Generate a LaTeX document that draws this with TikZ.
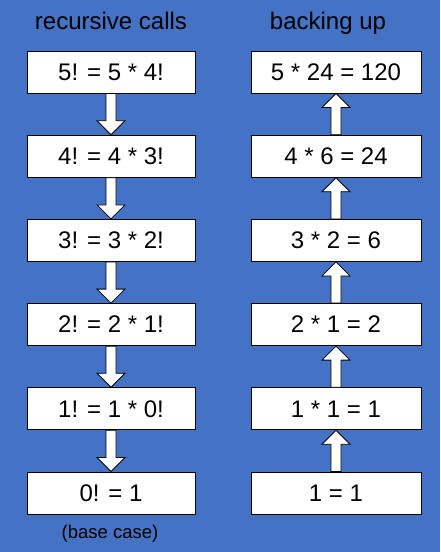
\documentclass[tikz,border=0pt]{standalone}
\usepackage{fontspec}
\setmainfont{Liberation Sans}
\usetikzlibrary{calc}
\definecolor{bg}{HTML}{4472C4}
\begin{document}
\begin{tikzpicture}[x=1pt,y=-1pt,
  box/.style={draw=black,line width=1pt,fill=white,inner sep=0pt,minimum height=42pt,font=\fontsize{24}{28}\selectfont},
  lbox/.style={box,minimum width=168pt},
  rbox/.style={box,minimum width=170pt},
  title/.style={anchor=base,font=\fontsize{24}{28}\selectfont,text=black},
  arr/.style={draw=black,line width=0.8pt,fill=white,line join=miter}]
\fill[bg] (0,0) rectangle (440,552);
\useasboundingbox (0,0) rectangle (440,552);
\node[title] (tl) at (111,29) {recursive calls};
\node[title] (tr) at (328,29) {backing up};
\node[lbox] (l1) at (111,72) {5! = 5 * 4!};
\node[lbox] (l2) at (111,156.2) {4! = 4 * 3!};
\node[lbox] (l3) at (111,240.4) {3! = 3 * 2!};
\node[lbox] (l4) at (111,324.6) {2! = 2 * 1!};
\node[lbox] (l5) at (111,408.8) {1! = 1 * 0!};
\node[lbox] (l6) at (111,493) {0! = 1};
\node[rbox] (r1) at (336,72) {5 * 24 = 120};
\node[rbox] (r2) at (336,156.2) {4 * 6 = 24};
\node[rbox] (r3) at (336,240.4) {3 * 2 = 6};
\node[rbox] (r4) at (336,324.6) {2 * 1 = 2};
\node[rbox] (r5) at (336,408.8) {1 * 1 = 1};
\node[rbox] (r6) at (336,493) {1 = 1};
\node[anchor=base,font=\fontsize{18.5}{22}\selectfont] (bc) at (110,538) {(base case)};
\foreach \a/\b in {l1/l2,l2/l3,l3/l4,l4/l5,l5/l6}{
  \draw[arr] ($(\a.south)+(-5,0)$) -- ($(\b.north)+(-5,-14)$) -- ($(\b.north)+(-14,-14)$)
    -- (\b.north) -- ($(\b.north)+(14,-14)$) -- ($(\b.north)+(5,-14)$) -- ($(\a.south)+(5,0)$) -- cycle;
}
\foreach \a/\b in {r1/r2,r2/r3,r3/r4,r4/r5,r5/r6}{
  \draw[arr] ($(\b.north)+(-5,0)$) -- ($(\a.south)+(-5,14)$) -- ($(\a.south)+(-14,14)$)
    -- (\a.south) -- ($(\a.south)+(14,14)$) -- ($(\a.south)+(5,14)$) -- ($(\b.north)+(5,0)$) -- cycle;
}
\end{tikzpicture}
\end{document}
